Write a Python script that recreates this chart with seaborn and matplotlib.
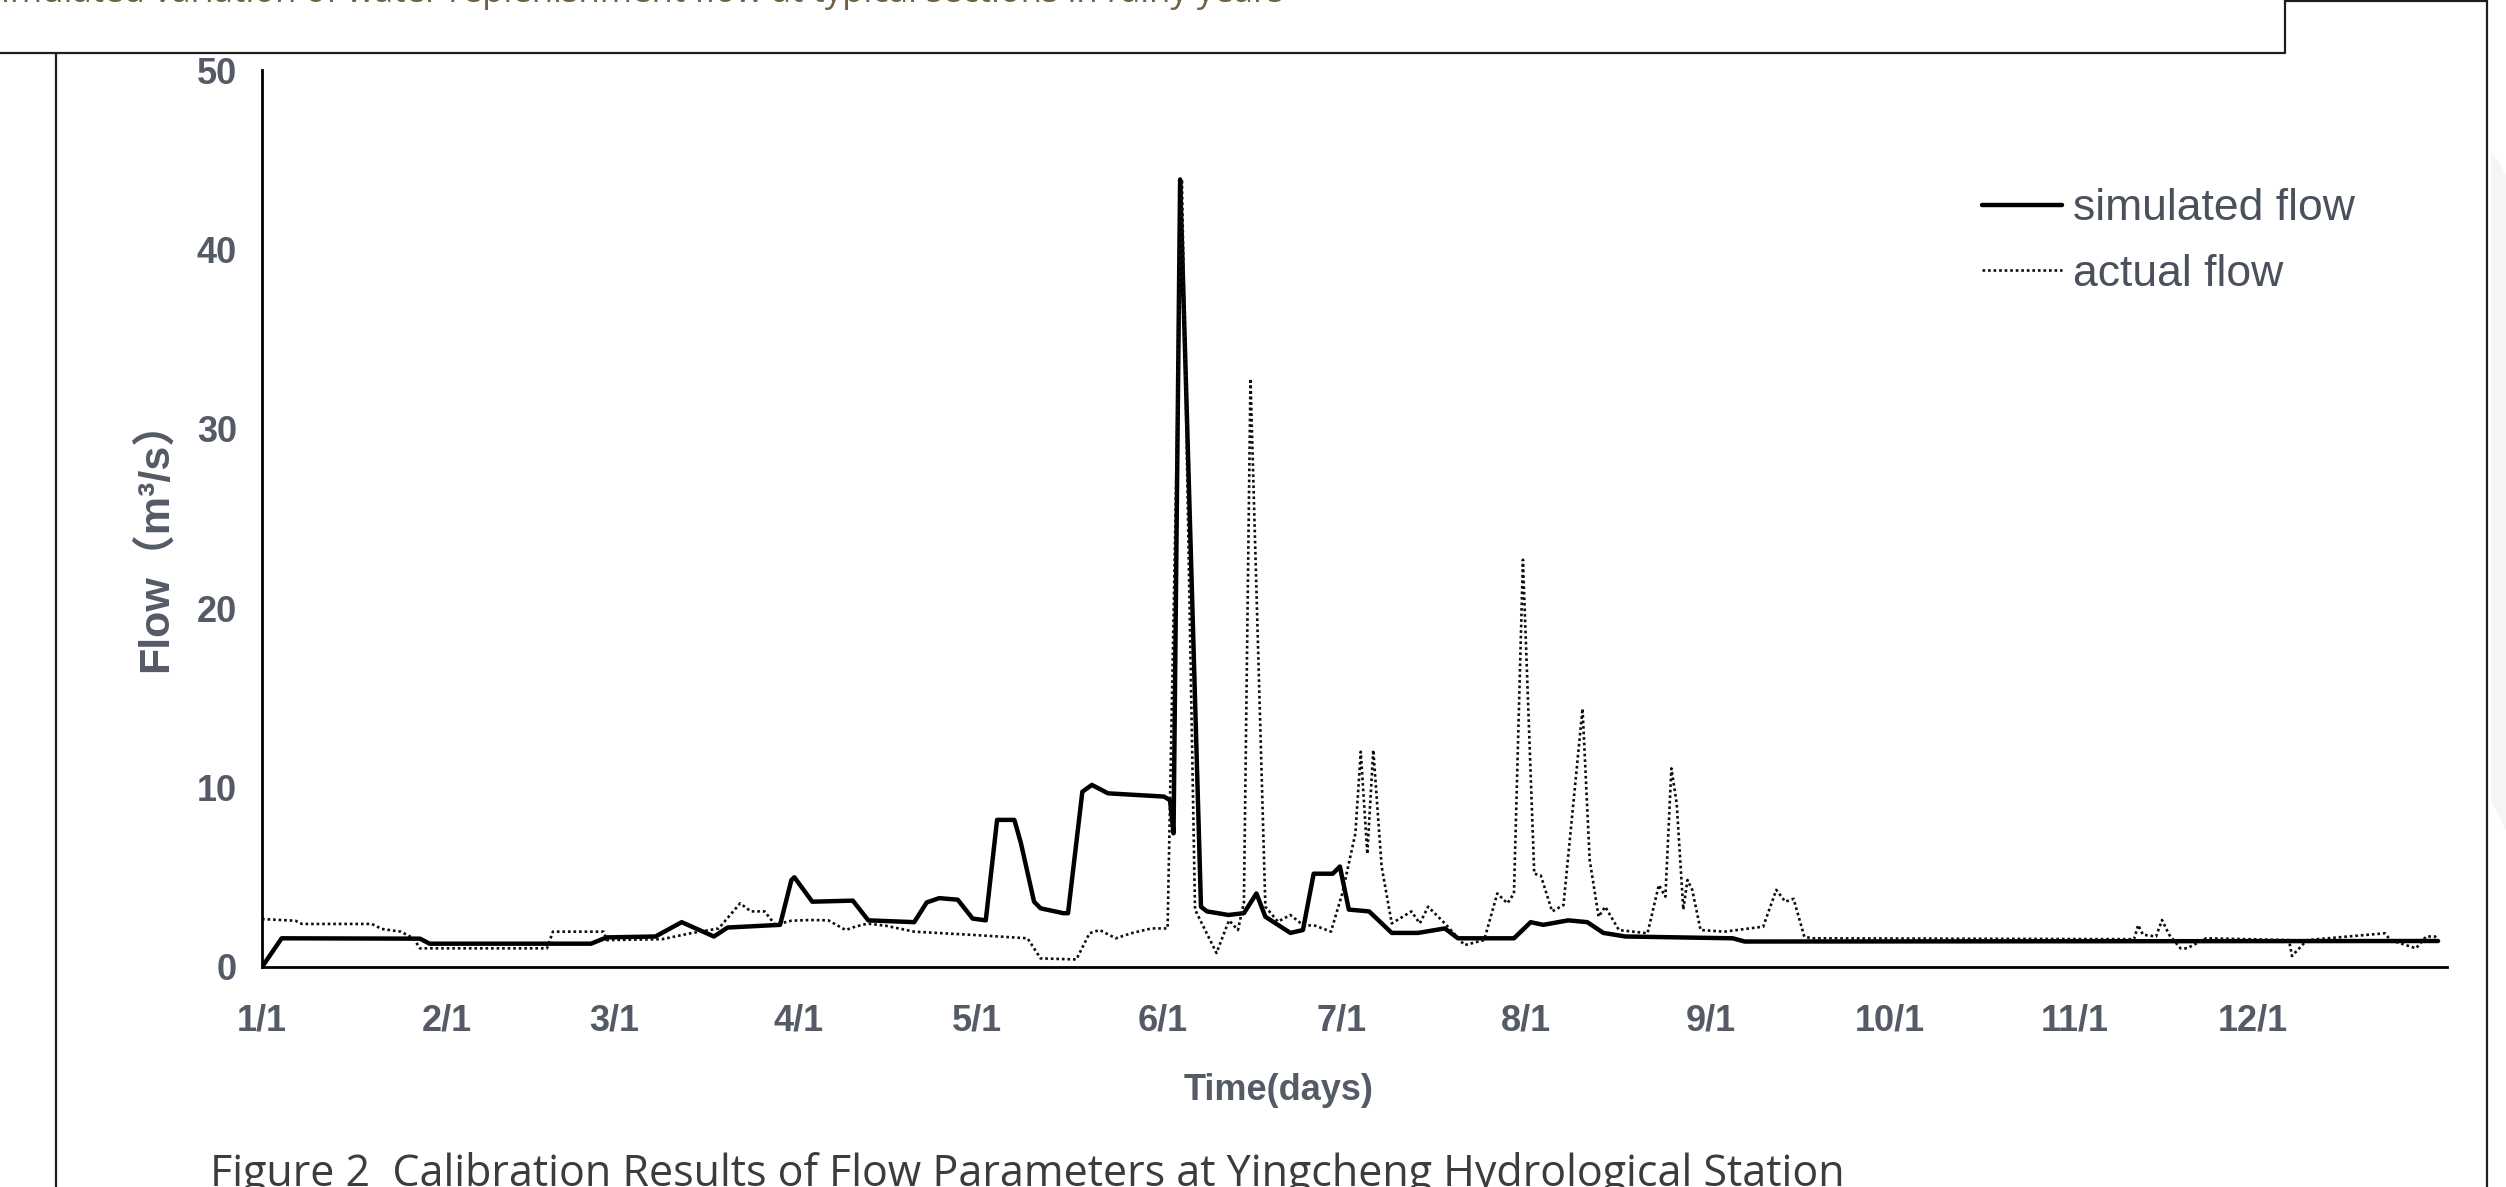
import matplotlib
matplotlib.use("Agg")
import matplotlib.pyplot as plt
import seaborn as sns
import pandas as pd
from matplotlib.lines import Line2D
from matplotlib.patches import Polygon

# simulated flow, polyline vertices (day of year, m3/s)
sim_day = [0, 3.3, 26.5, 28.1, 55.2, 57.8, 66, 70.4, 75.8, 78.1, 86.9, 88.8, 89.3,
           92.3, 99.1, 101.7, 109.4, 111.5, 113.6, 116.7, 119.2, 121.4, 123.3, 126.2,
           127.3, 129.5, 130.6, 134.4, 135.2, 137.6, 139.2, 141.9, 151.3, 152.3, 152.9,
           154.0, 157.5, 158.5, 162.1, 164.7, 166.8, 168.3, 172.5, 174.6, 176.4, 179.6,
           180.8, 182.3, 185.7, 189.5, 193.9, 198.4, 200.6, 210, 212.8, 214.9, 219.1,
           222.3, 225, 228.7, 246.7, 248.7, 365]
sim_flow = [0, 1.6, 1.58, 1.3, 1.3, 1.65, 1.7, 2.5, 1.7, 2.2, 2.35, 4.85, 5.0,
            3.64, 3.7, 2.6, 2.5, 3.6, 3.84, 3.75, 2.7, 2.6, 8.2, 8.2,
            6.9, 3.64, 3.27, 3.0, 3.0, 9.77, 10.15, 9.68, 9.5, 9.3, 7.45,
            43.9, 3.36, 3.1, 2.9, 3.0, 4.1, 2.8, 1.9, 2.06, 5.2, 5.2,
            5.6, 3.2, 3.1, 1.9, 1.9, 2.15, 1.6, 1.6, 2.5, 2.35, 2.6,
            2.5, 1.9, 1.7, 1.6, 1.42, 1.45]

# actual (observed) flow
obs_day = [0, 5.6, 6.7, 18.4, 20.1, 23.3, 25.4, 26.5, 47.8, 48.8, 57.3, 57.8, 67.1,
           71.9, 76.6, 80.2, 82, 84.3, 86.1, 88.8, 92, 95, 97.9, 99.5, 101.6, 104.6,
           109.4, 119.7, 128.4, 130.6, 136.6, 138.8, 140.5, 143.2, 146, 149.2, 151.9,
           154.3, 156.5, 160.1, 162.2, 163.7, 164.7, 165.8, 168.3, 170.4, 172.5, 174.6,
           176.7, 179.3, 181.2, 183.4, 184.3, 185.4, 186.4, 187.8, 189.5, 192.8, 194.2,
           195.6, 198.4, 201.7, 205, 207.2, 208.9, 210, 211.5, 213.4, 214.5, 216.4,
           218.3, 221.5, 222.7, 224.2, 225.3, 227.6, 232.4, 234.3, 235.4, 236.4, 237.3,
           238.4, 239.1, 239.9, 241.3, 245.3, 251.8, 254, 255.5, 256.9, 258.7, 260,
           314, 314.7, 315.5, 317.7, 318.7, 319.9, 321.8, 322.9, 326.1, 340, 340.5,
           341.7, 343, 356.1, 357, 361.3, 363, 364.5, 365]
obs_flow = [2.67, 2.58, 2.4, 2.4, 2.12, 1.97, 1.6, 1.04, 1.04, 1.97, 1.97, 1.5, 1.55,
            1.88, 2.15, 3.55, 3.1, 3.1, 2.35, 2.58, 2.62, 2.6, 2.06, 2.25, 2.42, 2.3,
            1.97, 1.78, 1.6, 0.48, 0.42, 1.88, 2.06, 1.6, 1.9, 2.15, 2.15,
            43.9, 3.2, 0.78, 2.6, 2.06, 3.6, 32.8, 3.36, 2.53, 2.9, 2.34,
            2.3, 1.97, 4.1, 7.45, 12.0, 6.3, 12.1, 5.6, 2.43, 3.1, 2.43,
            3.36, 2.43, 1.22, 1.5, 4.1, 3.55, 4.1, 22.7, 5.2, 5.1, 3.1,
            3.45, 14.4, 5.96, 2.8, 3.36, 2.06, 1.88, 4.57, 3.92, 11.07, 9.1,
            3.2, 4.85, 4.3, 2.06, 1.97, 2.25, 4.3, 3.64, 3.8, 1.69, 1.6,
            1.55, 2.34, 1.8, 1.7, 2.62, 1.8, 1.04, 1.04, 1.6, 1.5, 0.61,
            1.04, 1.5, 1.88, 1.5, 1.04, 1.7, 1.7, 1.5]

month_day = [0, 31, 59, 90, 120, 151, 181, 212, 243, 273, 304, 334, 365]
month_lbl = ['1/1', '2/1', '3/1', '4/1', '5/1', '6/1', '7/1', '8/1', '9/1',
             '10/1', '11/1', '12/1', '']

sns.set_theme(style='white')
plt.rcParams['font.family'] = ['Liberation Sans', 'Noto Sans CJK SC', 'DejaVu Sans']

W, H = 2506, 1187
fig = plt.figure(figsize=(W / 100, H / 100), dpi=100)
ax = fig.add_axes([262 / W, 1 - 967 / H, (2447 - 262) / W, (967 - 70) / H])

sim = pd.DataFrame({'day': sim_day, 'flow': sim_flow})
obs = pd.DataFrame({'day': obs_day, 'flow': obs_flow})
sns.lineplot(data=sim, x='day', y='flow', ax=ax, color='black', lw=3.2,
             sort=False, estimator=None, label='simulated flow')
sns.lineplot(data=obs, x='day', y='flow', ax=ax, color='#0d0d0d', lw=1.9,
             linestyle=(0, (1.0, 1.1)), sort=False, estimator=None, label='actual flow')

ax.set_xlim(0, 366.5)
ax.set_ylim(0, 50)
ax.set_xticks(month_day)
ax.set_xticklabels(month_lbl)
ax.set_yticks(range(0, 51, 10))
ax.spines[['top', 'right']].set_visible(False)
for s in ['left', 'bottom']:
    ax.spines[s].set_color('black')
    ax.spines[s].set_linewidth(2)
lblc = '#555b66'
ax.tick_params(direction='in', length=11, width=1.6, color='black',
               labelcolor=lblc, labelsize=26)
ax.tick_params(axis='x', pad=26)
ax.tick_params(axis='y', pad=18)
for t in ax.get_xticklabels() + ax.get_yticklabels():
    t.set_fontweight('bold')

ax.set_xlabel('Time(days)', fontsize=26, fontweight='bold', color=lblc, va='center')
ax.xaxis.set_label_coords((1279 - 262) / 2185, (967 - 1090) / 897)
ax.set_ylabel('Flow（m³/s）', fontsize=31, fontweight='bold', color=lblc, va='center')
ax.yaxis.set_label_coords((155 - 262) / 2185, (967 - 536) / 897)

leg = ax.legend(loc='upper left', bbox_to_anchor=((1982 - 262) / 2185, 0.868),
                frameon=False, fontsize=32, handlelength=1.8, handletextpad=0.25,
                labelspacing=0.55, borderpad=0, borderaxespad=0)
for t in leg.get_texts():
    t.set_color('#4a505c')

# page frame lines around the figure
lc = '#1e1e1e'
for xs, ys in [([0, 2285], [53, 53]), ([2285, 2285], [53, 0]), ([2285, 2487], [1, 1]),
               ([2487, 2487], [0, H]), ([56, 56], [53, H])]:
    fig.add_artist(Line2D([x / W for x in xs], [1 - y / H for y in ys],
                          transform=fig.transFigure, color=lc, lw=1.6))
fig.add_artist(Polygon([(2491 / W, 1 - 150 / H), (1, 1 - 175 / H), (1, 1 - 830 / H),
                        (2491 / W, 1 - 800 / H)], closed=True, transform=fig.transFigure,
                       facecolor='#f5f5f5', edgecolor='none'))

fig.text(-18 / W, 1 - 2 / H, 'Simulated variation of water replenishment flow at typical sections in rainy years',
         fontsize=25, family='Open Sans', color='#6e6242', ha='left', va='baseline')
fig.text(210 / W, 1 - 1186 / H,
         'Figure 2  Calibration Results of Flow Parameters at Yingcheng Hydrological Station',
         fontsize=31, family='Open Sans', color='#3c3c3c', ha='left', va='baseline')

fig.savefig('out.png', dpi=100, facecolor='white')
